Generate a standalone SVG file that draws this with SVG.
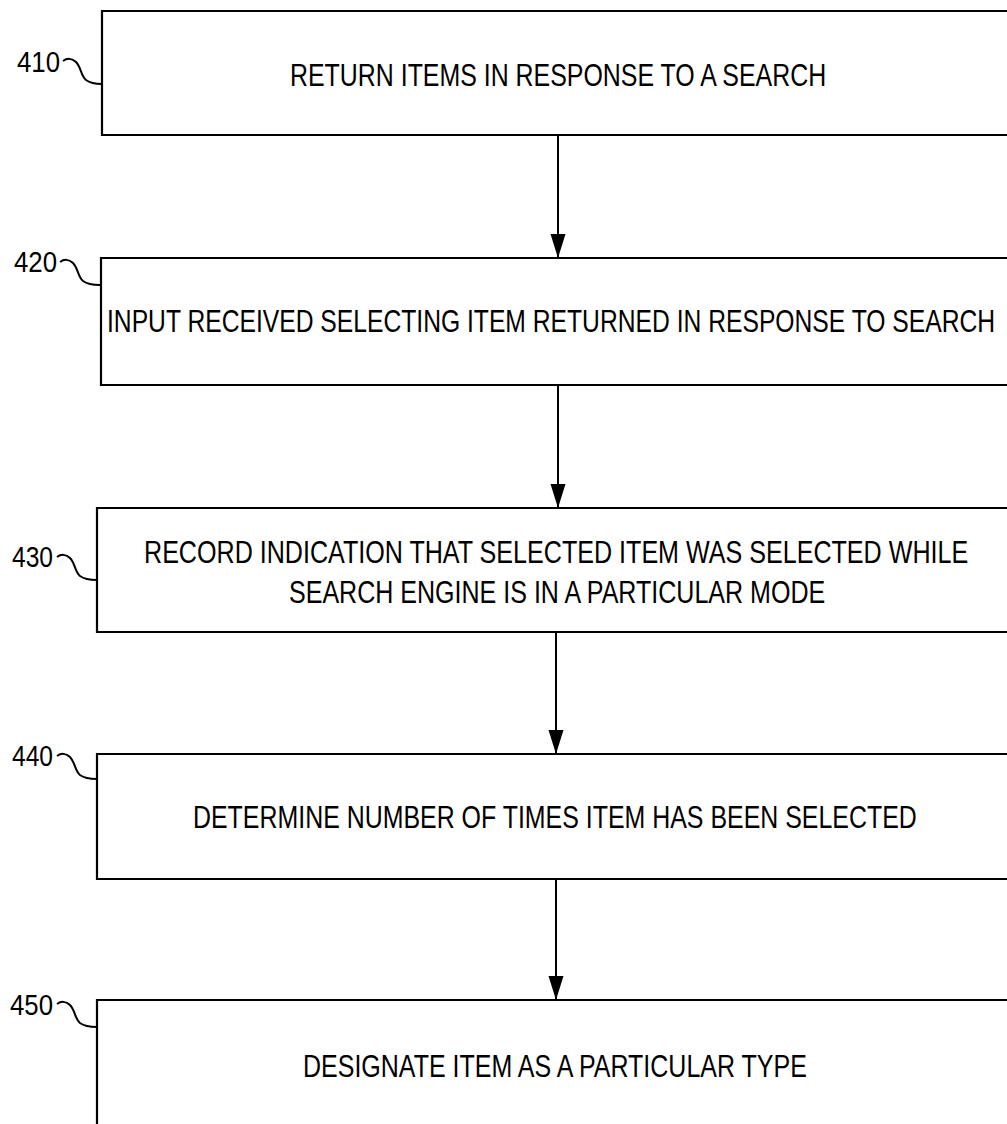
<svg xmlns="http://www.w3.org/2000/svg" width="1007" height="1124" viewBox="0 0 1007 1124">
<style>
.box{fill:#fff;stroke:#000;stroke-width:2.2}
.t{font-family:"Liberation Sans",Arial,sans-serif;font-size:31px;fill:#000}
.lbl{font-family:"Liberation Sans",Arial,sans-serif;font-size:29px;fill:#000;text-anchor:end}
.sq{fill:none;stroke:#000;stroke-width:2}
.conn{stroke:#000;stroke-width:2;fill:none;marker-end:url(#ah)}
</style>
<defs>
<marker id="ah" markerUnits="userSpaceOnUse" markerWidth="24" markerHeight="16" refX="24" refY="8" orient="auto" viewBox="0 0 24 16">
<path d="M0,0.5 L24,8 L0,15.5 Z" fill="#000"/>
</marker>
</defs>
<rect width="1007" height="1124" fill="#fff"/>
<g id="connectors">
<line class="conn" x1="558" y1="136" x2="558" y2="258"/>
<line class="conn" x1="558" y1="385" x2="558" y2="508"/>
<line class="conn" x1="556" y1="633" x2="556" y2="754"/>
<line class="conn" x1="556" y1="880" x2="556" y2="1000"/>
</g>
<g id="n410">
<path class="box" d="M1007,11 H102 V135 H1007"/>
<text class="t" transform="translate(290,86) scale(0.83,1)" textLength="646" lengthAdjust="spacingAndGlyphs">RETURN ITEMS IN RESPONSE TO A SEARCH</text>
<text class="lbl" x="60" y="72" textLength="43" lengthAdjust="spacingAndGlyphs">410</text>
<path class="sq" d="M63,61 c4,-3 9,-3 13,1 c5,5 5,14 10,18 c4,3 9,4 16,4"/>
</g>
<g id="n420">
<path class="box" d="M1007,258 H101 V385 H1007"/>
<text class="t" transform="translate(107,332) scale(0.83,1)" textLength="1070" lengthAdjust="spacingAndGlyphs">INPUT RECEIVED SELECTING ITEM RETURNED IN RESPONSE TO SEARCH</text>
<text class="lbl" x="57" y="272" textLength="43" lengthAdjust="spacingAndGlyphs">420</text>
<path class="sq" d="M60,262 c4,-3 9,-3 13,1 c5,5 5,14 10,18 c4,3 10,4 17,4"/>
</g>
<g id="n430">
<path class="box" d="M1007,508 H97 V632 H1007"/>
<text class="t" transform="translate(144,563) scale(0.83,1)" textLength="993" lengthAdjust="spacingAndGlyphs">RECORD INDICATION THAT SELECTED ITEM WAS SELECTED WHILE</text>
<text class="t" transform="translate(289,603) scale(0.83,1)" textLength="646" lengthAdjust="spacingAndGlyphs">SEARCH ENGINE IS IN A PARTICULAR MODE</text>
<text class="lbl" x="53" y="567" textLength="41" lengthAdjust="spacingAndGlyphs">430</text>
<path class="sq" d="M57,557 c4,-3 9,-3 13,1 c5,5 5,14 10,18 c4,3 10,4 17,4"/>
</g>
<g id="n440">
<path class="box" d="M1007,754 H97 V879 H1007"/>
<text class="t" transform="translate(193,828) scale(0.83,1)" textLength="872" lengthAdjust="spacingAndGlyphs">DETERMINE NUMBER OF TIMES ITEM HAS BEEN SELECTED</text>
<text class="lbl" x="53" y="766" textLength="41" lengthAdjust="spacingAndGlyphs">440</text>
<path class="sq" d="M57,756 c4,-3 9,-3 13,1 c5,5 5,14 10,18 c4,3 10,4 17,4"/>
</g>
<g id="n450">
<path class="box" d="M1007,1000 H97 V1124"/>
<text class="t" transform="translate(303,1077) scale(0.83,1)" textLength="607" lengthAdjust="spacingAndGlyphs">DESIGNATE ITEM AS A PARTICULAR TYPE</text>
<text class="lbl" x="53" y="1015" textLength="43" lengthAdjust="spacingAndGlyphs">450</text>
<path class="sq" d="M57,1004 c4,-3 9,-3 13,1 c5,5 5,14 10,18 c4,3 10,4 17,4"/>
</g>
</svg>
